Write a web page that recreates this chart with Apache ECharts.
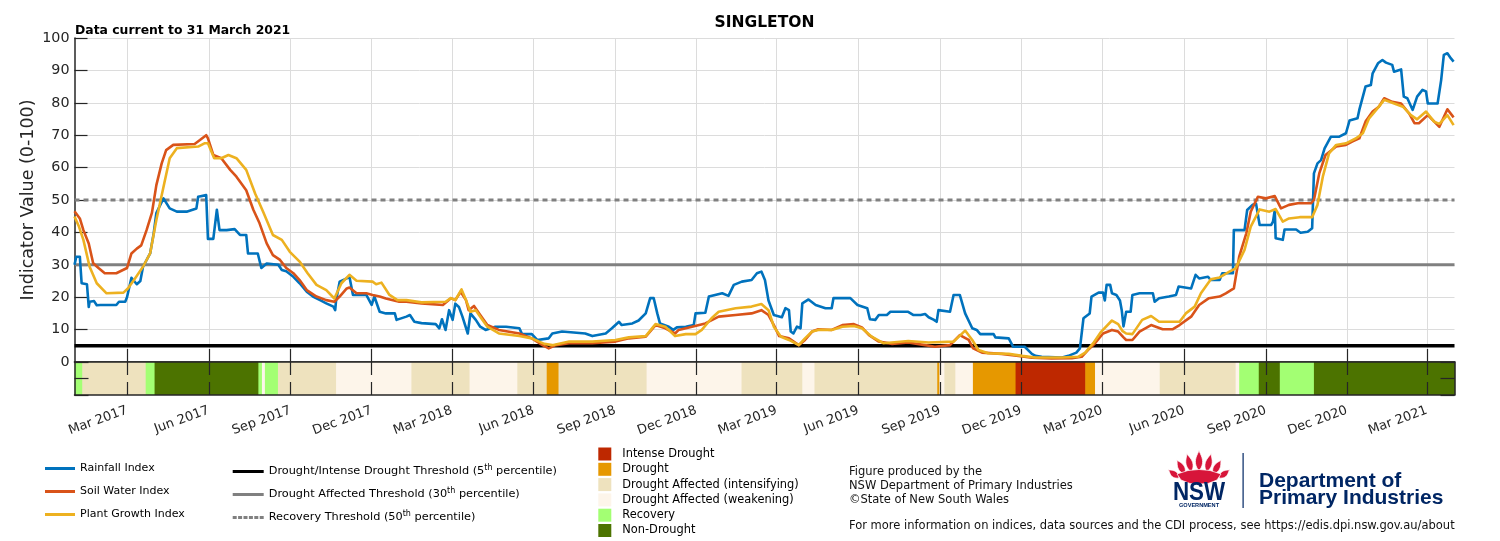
<!DOCTYPE html>
<html lang="en">
<head>
	<meta charset="UTF-8">
	<title>Singleton CDI</title>
	<style>
		*{
			margin: 0;
			padding: 0;
		}
		body{
			background: #fff;
		}
		#chart{
			width: 1500px;
			height: 541px;
		}
	</style>
	<script src="https://cdn.jsdelivr.net/npm/echarts@6/dist/echarts.min.js"></script>
</head>
<body>
	<div id="chart"></div>
	<script>
		// ---- data ----
		var xStart = '2017-01-01';
		var xEnd = '2021-04-01';
		var tickDates = ['2017-03-01','2017-06-01','2017-09-01','2017-12-01','2018-03-01','2018-06-01','2018-09-01','2018-12-01',
			'2019-03-01','2019-06-01','2019-09-01','2019-12-01','2020-03-01','2020-06-01','2020-09-01','2020-12-01','2021-03-01'];
		var monthNames = ['Jan','Feb','Mar','Apr','May','Jun','Jul','Aug','Sep','Oct','Nov','Dec'];

		var thresholdNames = ['Drought/Intense Drought Threshold (5th percentile)', 'Drought Affected Threshold (30th percentile)', 'Recovery Threshold (50th percentile)'];
		var thresholdValues = [5, 30, 50];

		var rainDates = ['2017-01-01','2017-01-03','2017-01-07','2017-01-09','2017-01-15','2017-01-17','2017-01-18','2017-01-23','2017-01-26','2017-01-30',
			'2017-02-17','2017-02-20','2017-02-27','2017-03-01','2017-03-06','2017-03-12','2017-03-16','2017-03-19','2017-03-27','2017-03-31',
			'2017-04-03','2017-04-11','2017-04-18','2017-04-26','2017-05-07','2017-05-18','2017-05-20','2017-05-29','2017-05-31','2017-06-06',
			'2017-06-10','2017-06-13','2017-06-21','2017-06-30','2017-07-06','2017-07-13','2017-07-15','2017-07-26','2017-07-30','2017-08-05',
			'2017-08-18','2017-08-22','2017-08-27','2017-09-04','2017-09-11','2017-09-19','2017-09-26','2017-10-04','2017-10-11','2017-10-19',
			'2017-10-21','2017-10-22','2017-10-26','2017-11-03','2017-11-06','2017-11-10','2017-11-25','2017-12-01','2017-12-04','2017-12-10',
			'2017-12-17','2017-12-27','2017-12-29','2018-01-09','2018-01-13','2018-01-18','2018-01-26','2018-02-11','2018-02-15','2018-02-18',
			'2018-02-22','2018-02-26','2018-03-02','2018-03-05','2018-03-09','2018-03-13','2018-03-19','2018-03-22','2018-03-28','2018-04-02',
			'2018-04-08','2018-04-19','2018-05-01','2018-05-16','2018-05-19','2018-05-30','2018-06-05','2018-06-18','2018-06-22','2018-07-03',
			'2018-07-29','2018-08-06','2018-08-21','2018-08-28','2018-09-05','2018-09-08','2018-09-20','2018-09-27','2018-10-05','2018-10-10',
			'2018-10-14','2018-10-18','2018-10-21','2018-10-31','2018-11-05','2018-11-09','2018-11-19','2018-11-28','2018-11-30','2018-12-11',
			'2018-12-15','2018-12-22','2018-12-30','2019-01-06','2019-01-12','2019-01-21','2019-02-01','2019-02-07','2019-02-12','2019-02-16',
			'2019-02-20','2019-02-26','2019-03-07','2019-03-11','2019-03-15','2019-03-17','2019-03-20','2019-03-24','2019-03-28','2019-03-30',
			'2019-04-06','2019-04-14','2019-04-25','2019-05-02','2019-05-04','2019-05-23','2019-05-31','2019-06-11','2019-06-14','2019-06-20',
			'2019-06-24','2019-07-03','2019-07-07','2019-07-27','2019-08-02','2019-08-10','2019-08-15','2019-08-19','2019-08-25','2019-08-28',
			'2019-08-30','2019-09-12','2019-09-16','2019-09-23','2019-09-29','2019-10-07','2019-10-12','2019-10-16','2019-10-31','2019-11-02',
			'2019-11-17','2019-11-22','2019-12-05','2019-12-13','2019-12-17','2019-12-24','2020-01-16','2020-01-23','2020-02-01','2020-02-05',
			'2020-02-09','2020-02-16','2020-02-18','2020-02-26','2020-03-02','2020-03-04','2020-03-06','2020-03-10','2020-03-12','2020-03-17',
			'2020-03-21','2020-03-23','2020-03-25','2020-03-28','2020-04-02','2020-04-04','2020-04-12','2020-04-27','2020-04-29','2020-05-04',
			'2020-05-15','2020-05-23','2020-05-26','2020-06-09','2020-06-14','2020-06-18','2020-06-28','2020-07-01','2020-07-11','2020-07-14',
			'2020-07-26','2020-07-27','2020-08-08','2020-08-11','2020-08-17','2020-08-21','2020-08-25','2020-09-07','2020-09-09','2020-09-11',
			'2020-09-12','2020-09-20','2020-09-22','2020-10-05','2020-10-10','2020-10-18','2020-10-23','2020-10-25','2020-10-29','2020-11-02',
			'2020-11-06','2020-11-13','2020-11-22','2020-11-30','2020-12-04','2020-12-13','2020-12-15','2020-12-22','2020-12-28','2020-12-30',
			'2021-01-05','2021-01-10','2021-01-14','2021-01-21','2021-01-23','2021-01-31','2021-02-03','2021-02-07','2021-02-13','2021-02-18',
			'2021-02-24','2021-02-28','2021-03-02','2021-03-13','2021-03-17','2021-03-20','2021-03-24','2021-03-28','2021-03-31'];
		var rainValues = [30,32.5,32.5,24.3,24,17,18.6,18.8,17.5,17.6,
			17.6,18.6,18.6,20,26,24,25,29.4,33.5,39.7,
			46,50.5,47.4,46.4,46.4,47.4,51,51.5,38,38,
			47,40.7,40.7,41,39.2,39.2,33.5,33.5,29,30.4,
			30,28.4,28,26.3,24.3,21.7,20.2,19.1,18.1,17.1,
			16,19,24.8,25.8,26.3,20.7,20.7,17.6,20.2,15.5,
			15,15,13,14,14.5,12.4,12,11.7,10.4,13.2,
			9.9,16,13,18,17,14,8.8,15,13,10.9,
			9.9,10.9,10.9,10.4,8.6,8.6,6.8,7.3,8.8,9.4,
			8.8,8,8.8,10.4,12.4,11.4,11.9,12.8,15,19.7,
			19.7,15,11.9,10.9,9.9,10.7,10.9,11.4,15,15.2,
			20.2,20.7,21.2,20.4,23.8,24.8,25.3,27.4,27.9,25.3,
			19,14.5,13.8,16.6,16,9.4,8.8,10.9,10.4,18.1,
			19.3,17.6,16.6,16.6,19.7,19.7,17.6,16.6,13.2,13,
			14.5,14.5,15.5,15.5,14.5,14.5,14.8,13.8,13,12.4,
			16,15.5,20.7,20.7,15,10.4,9.9,8.6,8.6,7.6,
			7.3,4.7,4.7,2.5,1.9,1.6,1.4,1.9,2.9,4.2,
			13.5,15,20.2,21.4,21.4,19,23.8,23.8,21.2,20.7,
			19,16,11,15.5,15.5,20.7,21.2,21.2,18.6,19.7,
			20.2,20.7,23.3,22.7,26.9,25.8,26.3,25.3,25.3,27.4,
			27.4,40.7,40.7,46.9,48.5,48.8,42.3,42.3,43.3,46.9,
			38.2,37.7,40.9,40.9,39.9,40.2,41.3,58.2,61.3,62.3,
			65.9,69.5,69.5,70.6,74.5,75.2,77.8,85,85.5,89.1,
			92.2,93.2,92.4,91.7,89.6,90.3,81.9,81.4,77.8,81.9,
			84,83.5,79.8,79.8,87,94.8,95.3,93.7,92.7];

		var soilDates = ['2017-01-01','2017-01-07','2017-01-11','2017-01-17','2017-01-22','2017-01-28','2017-02-04','2017-02-17','2017-03-01','2017-03-06',
			'2017-03-12','2017-03-17','2017-03-23','2017-03-29','2017-04-03','2017-04-09','2017-04-14','2017-04-22','2017-05-16','2017-05-22',
			'2017-05-29','2017-05-31','2017-06-06','2017-06-15','2017-06-25','2017-07-02','2017-07-13','2017-07-21','2017-07-28','2017-08-05',
			'2017-08-12','2017-08-20','2017-08-27','2017-09-04','2017-09-11','2017-09-19','2017-09-30','2017-10-11','2017-10-20','2017-10-26',
			'2017-11-03','2017-11-06','2017-11-14','2017-11-25','2017-12-02','2017-12-10','2017-12-17','2018-01-01','2018-01-09','2018-01-26',
			'2018-02-19','2018-02-28','2018-03-05','2018-03-11','2018-03-17','2018-03-20','2018-03-26','2018-04-02','2018-04-10','2018-04-23',
			'2018-05-16','2018-05-30','2018-06-11','2018-06-18','2018-06-26','2018-07-11','2018-08-06','2018-09-01','2018-09-16','2018-10-05',
			'2018-10-16','2018-10-27','2018-11-07','2018-11-11','2018-11-26','2018-12-11','2018-12-26','2019-01-14','2019-02-01','2019-02-12',
			'2019-02-20','2019-02-26','2019-03-04','2019-03-15','2019-03-26','2019-04-02','2019-04-10','2019-04-17','2019-05-02','2019-05-14',
			'2019-05-27','2019-06-05','2019-06-13','2019-06-24','2019-07-09','2019-07-27','2019-08-15','2019-08-26','2019-09-12','2019-09-23',
			'2019-10-03','2019-10-08','2019-10-18','2019-11-09','2019-11-28','2019-12-13','2020-01-04','2020-01-27','2020-02-07','2020-02-14',
			'2020-02-22','2020-03-02','2020-03-12','2020-03-19','2020-03-25','2020-03-28','2020-04-04','2020-04-12','2020-04-25','2020-05-08',
			'2020-05-19','2020-05-27','2020-06-09','2020-06-18','2020-06-29','2020-07-11','2020-07-18','2020-07-27','2020-08-02','2020-08-10',
			'2020-08-15','2020-08-23','2020-09-01','2020-09-11','2020-09-18','2020-09-27','2020-10-07','2020-10-22','2020-10-25','2020-10-31',
			'2020-11-07','2020-11-19','2020-11-30','2020-12-07','2020-12-15','2020-12-22','2020-12-30','2021-01-06','2021-01-12','2021-01-21',
			'2021-01-31','2021-02-09','2021-02-15','2021-02-20','2021-03-02','2021-03-15','2021-03-24','2021-03-31'];
		var soilValues = [46.5,44.3,40.7,36.6,30.5,29,27.4,27.4,29,33.5,
			35,36,40.7,46,54.6,61.3,65.4,67,67.3,68.5,
			70,69,63.9,62.9,59.3,57.2,53,47,42.8,36.6,
			33,31.5,29,27.4,25.3,22.2,20.2,19.1,18.6,20.2,
			22.7,23,21.2,21.2,20.7,20.2,19.6,18.6,18.6,18.1,
			17.6,19.7,19.1,21.7,19.1,16,17.3,14.5,11.4,9.9,
			8.8,7.3,5.2,4.2,5.2,5.8,5.8,6.3,7.3,7.8,
			11.4,10.4,8.8,9.9,10.9,11.9,14,14.5,15,16,
			14.5,11.4,8,7.3,5.2,6.8,9.4,10.1,9.9,11.4,
			11.7,10.7,8.3,6.3,5.6,6,5.2,4.7,5.2,8.3,
			6.8,4.2,2.9,2.5,1.9,1.3,1.1,1.2,1.6,3.7,
			5.8,8.8,9.9,9.4,7.6,6.8,6.8,9.4,11.4,10.1,
			10.1,11.4,14,17.6,19.7,20.2,21.2,22.7,32.5,39.7,
			46.4,51,50.5,51.2,47.4,48.5,49,49,50,58.2,
			63.9,66.5,67,68,69,74.2,77.3,78.8,81.4,80.3,
			79.8,76.7,73.7,73.7,76.2,72.6,78,75.5];

		var plantDates = ['2017-01-01','2017-01-06','2017-01-11','2017-01-18','2017-01-26','2017-02-06','2017-02-25','2017-03-02','2017-03-10','2017-03-19',
			'2017-03-27','2017-04-03','2017-04-11','2017-04-18','2017-04-26','2017-05-20','2017-05-27','2017-05-31','2017-06-07','2017-06-15',
			'2017-06-23','2017-07-02','2017-07-13','2017-07-23','2017-08-01','2017-08-12','2017-08-22','2017-08-31','2017-09-11','2017-09-20',
			'2017-09-30','2017-10-11','2017-10-20','2017-10-28','2017-11-06','2017-11-14','2017-12-02','2017-12-06','2017-12-12','2017-12-21',
			'2017-12-30','2018-01-09','2018-01-26','2018-02-22','2018-02-28','2018-03-05','2018-03-12','2018-03-17','2018-03-22','2018-03-28',
			'2018-04-02','2018-04-10','2018-04-23','2018-05-16','2018-05-30','2018-06-13','2018-06-22','2018-07-11','2018-08-06','2018-09-01',
			'2018-09-16','2018-10-05','2018-10-16','2018-10-27','2018-11-07','2018-11-19','2018-11-30','2018-12-07','2018-12-18','2018-12-26',
			'2019-01-14','2019-02-01','2019-02-12','2019-02-20','2019-02-26','2019-03-06','2019-03-15','2019-03-26','2019-04-02','2019-04-10',
			'2019-04-17','2019-05-02','2019-05-14','2019-05-27','2019-06-05','2019-06-16','2019-06-29','2019-07-27','2019-08-19','2019-09-16',
			'2019-09-29','2019-10-07','2019-10-14','2019-10-25','2019-11-17','2019-12-02','2019-12-17','2020-01-16','2020-02-03','2020-02-11',
			'2020-02-20','2020-02-29','2020-03-12','2020-03-19','2020-03-24','2020-03-28','2020-04-04','2020-04-15','2020-04-25','2020-05-04',
			'2020-05-27','2020-06-03','2020-06-13','2020-06-20','2020-07-01','2020-07-11','2020-07-22','2020-07-29','2020-08-08','2020-08-15',
			'2020-08-25','2020-09-05','2020-09-12','2020-09-20','2020-09-27','2020-10-09','2020-10-23','2020-10-29','2020-11-04','2020-11-11',
			'2020-11-19','2020-11-30','2020-12-11','2020-12-19','2020-12-26','2021-01-03','2021-01-12','2021-01-21','2021-02-02','2021-02-11',
			'2021-02-18','2021-02-28','2021-03-09','2021-03-15','2021-03-24','2021-03-31'];
		var plantValues = [44.9,41.8,37.7,29.4,24.3,21.2,21.4,22.7,25.8,29.4,
			33.5,43.8,54,62.9,66,66.5,67.5,67.5,62.9,62.9,
			63.9,62.9,59.3,52,46.4,39.2,37.7,34,31,27.4,
			23.8,22.2,19.6,24.3,26.9,25.1,24.8,24,24.5,20.7,
			19.1,19.1,18.4,18.6,19.7,19.1,22.4,19.1,15.5,16,
			14,10.9,8.8,8,7.3,5.6,5.2,6.3,6.3,6.8,
			7.6,8,11.7,10.9,8,8.6,8.6,9.9,13.5,15.5,
			16.6,17.1,17.9,16,10.9,7.8,6.8,5.2,7.3,9.4,
			9.9,9.9,10.9,11.1,10.4,7.8,5.8,6.5,6,6.3,
			9.7,6.8,3.7,2.7,2.5,1.9,1.4,1.4,1.6,2.9,
			5.8,9.4,12.8,11.7,9.5,8.8,8.6,13,14.2,12.4,
			12.4,15,17.1,21.2,25.5,26.1,27.9,28.9,34.6,41.8,
			47.1,46.4,47.2,43.3,44.3,44.7,44.7,48.5,57.2,64.4,
			67,67.5,69,70.6,75.2,77.8,80.9,80,78.8,76.2,
			74.9,77.3,74.2,73.5,76.2,73.1];

		var bandCategories = ['Intense Drought', 'Drought', 'Drought Affected (intensifying)', 'Drought Affected (weakening)', 'Recovery', 'Non-Drought'];
		var bandColors = ['#BE2800', '#E69800', '#EEE2BE', '#FDF5EA', '#A3FF73', '#4C7300'];
		var bandStarts = ['2017-01-01','2017-01-09','2017-03-22','2017-04-01','2017-07-26','2017-07-30','2017-08-03','2017-08-17','2017-10-22','2018-01-14',
			'2018-03-21','2018-05-13','2018-06-15','2018-06-29','2018-10-06','2019-01-20','2019-03-30','2019-04-12','2019-08-28','2019-08-31',
			'2019-09-05','2019-09-18','2019-10-07','2019-11-24','2020-02-11','2020-02-22','2020-05-04','2020-07-29','2020-08-02','2020-08-24',
			'2020-09-16','2020-10-25'];
		var bandEnds = ['2017-01-09','2017-03-22','2017-04-01','2017-07-26','2017-07-30','2017-08-03','2017-08-17','2017-10-22','2018-01-14','2018-03-21',
			'2018-05-13','2018-06-15','2018-06-29','2018-10-06','2019-01-20','2019-03-30','2019-04-12','2019-08-28','2019-08-31','2019-09-05',
			'2019-09-18','2019-10-07','2019-11-24','2020-02-11','2020-02-22','2020-05-04','2020-07-29','2020-08-02','2020-08-24','2020-09-16',
			'2020-10-25','2021-04-01'];
		var bandStates = [4,2,4,5,4,3,4,2,3,2,
			3,2,1,2,3,2,3,2,1,3,
			2,3,1,0,1,3,2,3,4,5,
			4,5];

		// ---- chart ----
		var chart = echarts.init(document.getElementById('chart'));
		var FONT = '"DejaVu Sans", sans-serif';
		var LOGO_FONT = '"Liberation Sans", Arial, sans-serif';
		var AXIS = '#262626';
		var NAVY = '#002664';

		function ts(d) {
			var p = d.split('-');
			return new Date(+p[0], +p[1] - 1, +p[2]).getTime();
		}
		var xMin = ts(xStart), xMax = ts(xEnd);
		var tickValues = tickDates.map(ts);

		function pairs(dates, values) {
			return dates.map(function (d, i) { return [ts(d), values[i]]; });
		}

		function tickLabel(value) {
			var d = new Date(value);
			return monthNames[d.getMonth()] + ' ' + d.getFullYear();
		}

		function renderBand(params, api) {
			var a = api.coord([api.value(0), 0]);
			var b = api.coord([api.value(1), -10]);
			return {
				type: 'rect',
				shape: {x: a[0], y: a[1], width: b[0] - a[0] + 0.6, height: b[1] - a[1]},
				style: {fill: api.visual('color')}
			};
		}

		// flame-shaped petal outline for the waratah in the logo (polygon points)
		function petal(bx, by, h, w, deg) {
			var a = deg * Math.PI / 180, s = Math.sin(a), c = Math.cos(a);
			var left = [], right = [];
			for (var i = 0; i <= 12; i++) {
				var u = i / 12;
				var hw = w * Math.pow(Math.sin(Math.PI * Math.min(1, u * 1.15)), 0.9) * (1 - 0.35 * u);
				var dy = h * u;
				left.push([bx - hw * c + dy * s, by - hw * s - dy * c]);
				right.unshift([bx + hw * c + dy * s, by + hw * s - dy * c]);
			}
			return {
				type: 'polygon',
				shape: {points: left.concat(right)},
				style: {fill: '#D7153A', stroke: '#fff', lineWidth: 0.7}
			};
		}

		var series = [];
		var thresholdColors = ['#000000', '#808080', '#808080'];
		var thresholdWidths = [3.5, 3, 3];
		var thresholdTypes = ['solid', 'solid', [5, 4]];
		thresholdNames.forEach(function (name, i) {
			series.push({
				name: name,
				type: 'line',
				xAxisIndex: 0,
				yAxisIndex: 0,
				symbol: 'none',
				color: thresholdColors[i],
				lineStyle: {width: thresholdWidths[i], type: thresholdTypes[i], cap: 'butt'},
				data: [[xMin, thresholdValues[i]], [xMax, thresholdValues[i]]],
				silent: true,
				z: 2
			});
		});

		var indexSeries = [
			{name: 'Rainfall Index', color: '#0072BD', data: pairs(rainDates, rainValues)},
			{name: 'Soil Water Index', color: '#D95319', data: pairs(soilDates, soilValues)},
			{name: 'Plant Growth Index', color: '#EDB120', data: pairs(plantDates, plantValues)}
		];
		indexSeries.forEach(function (s, i) {
			series.push({
				name: s.name,
				type: 'line',
				xAxisIndex: 0,
				yAxisIndex: 0,
				symbol: 'none',
				color: s.color,
				lineStyle: {width: 2.6, join: 'round'},
				data: s.data,
				silent: true,
				z: 3 + i
			});
		});

		bandCategories.forEach(function (cat, k) {
			var segs = [];
			bandStates.forEach(function (st, i) {
				if (st === k) segs.push([ts(bandStarts[i]), ts(bandEnds[i])]);
			});
			series.push({
				name: cat,
				type: 'custom',
				xAxisIndex: 1,
				yAxisIndex: 1,
				renderItem: renderBand,
				encode: {x: [0, 1]},
				color: bandColors[k],
				itemStyle: {color: bandColors[k]},
				data: segs,
				silent: true,
				z: 2
			});
		});

		var dotted = 'path://M0,0h4v3h-4zM5.4,0h4v3h-4zM10.8,0h4v3h-4zM16.2,0h4v3h-4zM21.6,0h4v3h-4zM27,0h4v3h-4z';

		function dateAxis(gridIndex, position, showLabel, showSplit) {
			return {
				type: 'value', gridIndex: gridIndex, min: xMin, max: xMax, position: position, z: gridIndex ? 10 : 0,
				axisLine: {show: true, onZero: false, lineStyle: {color: AXIS, width: 1.5}},
				axisTick: {show: true, inside: true, length: 13, customValues: tickValues, lineStyle: {color: AXIS, width: 1.2}},
				axisLabel: {show: showLabel, customValues: tickValues, rotate: 20, margin: 15, fontSize: 13, color: AXIS, fontFamily: FONT, formatter: tickLabel},
				splitLine: {show: showSplit, lineStyle: {color: '#dcdcdc', width: 1}}
			};
		}

		var logo = [
			petal(1179, 478, 15, 3.6, -52), petal(1219, 478, 15, 3.6, 52),
			petal(1185, 474, 18, 3.8, -30), petal(1213, 474, 18, 3.8, 30),
			petal(1191.5, 472, 21, 4, -14), petal(1206.5, 472, 21, 4, 14),
			petal(1199, 471, 23, 4.2, 0),
			{type: 'polygon', shape: {points: [[1177, 474], [1188, 470.5], [1199, 469.5], [1210, 470.5], [1221, 474], [1217, 480], [1208, 483.5], [1199, 484], [1190, 483.5], [1181, 480]]},
				style: {fill: '#D7153A', stroke: '#fff', lineWidth: 0.7}},
			{type: 'text', x: 1199, y: 493, scaleX: 0.86,
				style: {text: 'NSW', font: 'bold 26px ' + LOGO_FONT, fill: NAVY, align: 'center', verticalAlign: 'middle'}},
			{type: 'text', x: 1199, y: 505.3, style: {text: 'GOVERNMENT', font: 'bold 5.6px ' + LOGO_FONT, fill: NAVY, align: 'center', verticalAlign: 'middle'}},
			{type: 'rect', shape: {x: 1242.5, y: 453, width: 1.2, height: 55}, style: {fill: NAVY}},
			{type: 'text', x: 1259, y: 481.5, style: {text: 'Department of', font: 'bold 21px ' + LOGO_FONT, fill: NAVY, verticalAlign: 'middle'}},
			{type: 'text', x: 1259, y: 498.5, style: {text: 'Primary Industries', font: 'bold 21px ' + LOGO_FONT, fill: NAVY, verticalAlign: 'middle'}}
		];

		var option = {
			animation: false,
			backgroundColor: '#fff',
			grid: [
				{left: 74.5, right: 45.5, top: 38, height: 324, outerBoundsMode: 'none'},
				{left: 74.5, right: 45.5, top: 362, height: 33, outerBoundsMode: 'none'}
			],
			xAxis: [
				dateAxis(0, 'bottom', false, true),
				dateAxis(1, 'bottom', true, false),
				dateAxis(1, 'top', false, false)
			],
			yAxis: [
				{
					type: 'value', gridIndex: 0, min: 0, max: 100, interval: 10,
					name: 'Indicator Value (0-100)', nameLocation: 'middle', nameGap: 37.5, nameMoveOverlap: false,
					nameTextStyle: {fontSize: 17.5, color: AXIS, fontFamily: FONT},
					axisLine: {show: true, lineStyle: {color: AXIS, width: 1.5}},
					axisTick: {show: true, inside: true, length: 13, lineStyle: {color: AXIS, width: 1.2}},
					axisLabel: {fontSize: 14.3, color: AXIS, margin: 5, fontFamily: FONT},
					splitLine: {show: true, lineStyle: {color: '#dcdcdc', width: 1}}
				},
				{
					type: 'value', gridIndex: 1, min: -10, max: 0, interval: 5, z: 10,
					axisLine: {show: true, lineStyle: {color: AXIS, width: 1.5}},
					axisTick: {show: true, inside: true, length: 14, lineStyle: {color: AXIS, width: 1.2}},
					axisLabel: {show: false},
					splitLine: {show: false}
				},
				{
					type: 'value', gridIndex: 1, min: -10, max: 0, interval: 5, position: 'right', z: 10,
					axisLine: {show: true, lineStyle: {color: AXIS, width: 1.5}},
					axisTick: {show: true, inside: true, length: 14, lineStyle: {color: AXIS, width: 1.2}},
					axisLabel: {show: false},
					splitLine: {show: false}
				}
			],
			legend: [
				{
					data: ['Rainfall Index', 'Soil Water Index', 'Plant Growth Index'],
					orient: 'vertical', left: 45, top: 462, padding: 0,
					itemWidth: 30, itemHeight: 13, itemGap: 10,
					icon: 'path://M0,0h30v3h-30z',
					itemStyle: {borderWidth: 0},
					selectedMode: false,
					textStyle: {fontSize: 11, lineHeight: 13, color: '#000', fontFamily: FONT}
				},
				{
					data: thresholdNames.map(function (n, i) {
						return {name: n, icon: i === 2 ? dotted : 'path://M0,0h31v3h-31z'};
					}),
					orient: 'vertical', left: 232.7, top: 463.5, padding: 0,
					itemWidth: 31, itemHeight: 16, itemGap: 7,
					itemStyle: {borderWidth: 0},
					selectedMode: false,
					formatter: function (name) {
						return name.replace(/(\d+)th/, '$1{sup|th}');
					},
					textStyle: {
						fontSize: 11.3, lineHeight: 16, color: '#000', fontFamily: FONT,
						rich: {sup: {fontSize: 8, lineHeight: 9, verticalAlign: 'top', fontFamily: FONT, color: '#000'}}
					}
				},
				{
					data: bandCategories,
					orient: 'vertical', left: 598.3, top: 447.5, padding: 0,
					itemWidth: 25, itemHeight: 13, itemGap: 2.3,
					icon: 'path://M0,0H10V10H0Z',
					itemStyle: {borderWidth: 0},
					selectedMode: false,
					textStyle: {fontSize: 11.4, lineHeight: 13, color: '#000', fontFamily: FONT}
				}
			],
			graphic: [
				{type: 'text', x: 764.5, y: 23, style: {text: 'SINGLETON', font: 'bold 15.5px ' + FONT, fill: '#000', align: 'center', verticalAlign: 'middle'}},
				{type: 'text', x: 75, y: 30.5, style: {text: 'Data current to 31 March 2021', font: 'bold 12.4px ' + FONT, fill: '#000', align: 'left', verticalAlign: 'middle'}},
				{type: 'text', x: 849, y: 472.3, style: {text: 'Figure produced by the', font: '11.5px ' + FONT, fill: '#111', verticalAlign: 'middle'}},
				{type: 'text', x: 849, y: 486, style: {text: 'NSW Department of Primary Industries', font: '11.5px ' + FONT, fill: '#111', verticalAlign: 'middle'}},
				{type: 'text', x: 849, y: 500, style: {text: '\u00A9State of New South Wales', font: '11.5px ' + FONT, fill: '#111', verticalAlign: 'middle'}},
				{type: 'text', x: 849, y: 526, style: {text: 'For more information on indices, data sources and the CDI process, see https://edis.dpi.nsw.gov.au/about', font: '11.5px ' + FONT, fill: '#111', verticalAlign: 'middle'}}
			].concat(logo),
			series: series
		};
		chart.setOption(option);
	</script>
</body>
</html>
